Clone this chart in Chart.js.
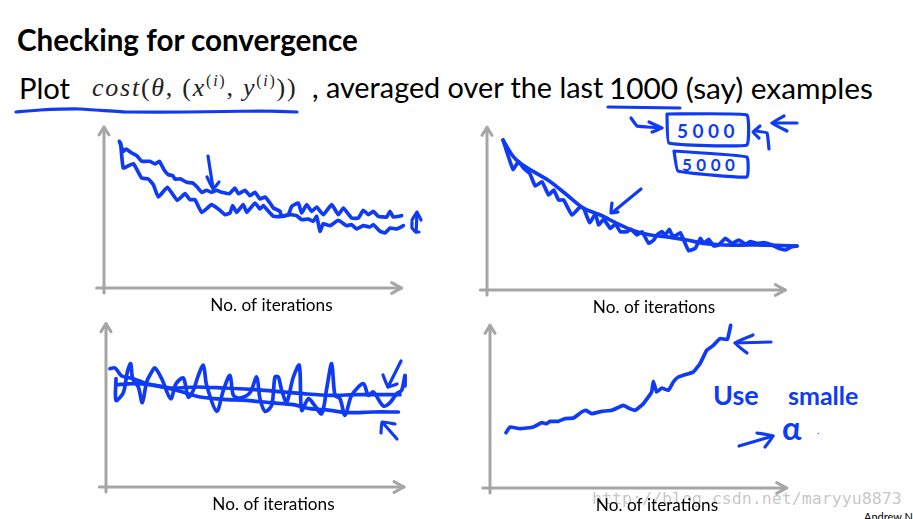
<!DOCTYPE html>
<html><head><meta charset="utf-8">
<script src="https://cdn.jsdelivr.net/npm/chart.js@4"></script>
<style>
html,body{margin:0;padding:0;background:#fff;width:913px;height:519px;overflow:hidden;position:relative}
canvas{position:absolute;display:block}
.t{position:absolute;white-space:nowrap;font-family:Lato,sans-serif;color:#000;line-height:1}
.m{position:absolute;white-space:nowrap;font-family:"Liberation Serif",serif;color:#222;line-height:1}
.h{position:absolute;white-space:nowrap;font-family:Lato,sans-serif;font-weight:700;color:#0f3bf5;line-height:1}
sup{font-size:16px;line-height:0;vertical-align:0;position:relative;top:-10px}
</style></head><body>
<div class="t" style="left:17px;top:25px;font-size:29.6px;font-weight:700">Checking for convergence</div>
<div class="t" style="left:19px;top:73px;font-size:29.2px">Plot</div>
<div class="m" style="left:92px;top:75px;font-size:26px;letter-spacing:1.75px"><i>cost</i>(<i>θ</i>, (<i>x</i><sup>(<i>i</i>)</sup>, <i>y</i><sup>(<i>i</i>)</sup>))</div>
<div class="t" style="left:312px;top:73px;font-size:28.8px">, averaged over the last</div>
<div class="t" style="left:609px;top:73px;font-size:29.8px">1000 (say) examples</div>
<div class="h" style="left:677px;top:121px;font-size:19px;letter-spacing:4.5px">5000</div>
<div class="h" style="left:682px;top:156px;font-size:17px;letter-spacing:4.5px">5000</div>
<div class="h" style="left:713px;top:381px;font-size:27px">Use</div>
<div class="h" style="left:788px;top:383px;font-size:25px">smalle</div>
<div class="h" style="left:782px;top:412px;font-size:32px">α</div>
<div class="h" style="left:817px;top:425px;font-size:10px;font-weight:400">.</div>
<div class="t" style="left:864px;top:511px;font-size:11px">Andrew Ng</div>
<div style="position:absolute;left:592px;top:489px;font:16.6px 'DejaVu Sans Mono',monospace;color:rgba(150,150,150,.55);white-space:nowrap">http://blog.csdn.net/maryyu8873</div>
<canvas id="p1" width="345" height="210" style="left:94px;top:113px"></canvas>
<canvas id="p2" width="344" height="210" style="left:477px;top:115px"></canvas>
<canvas id="p3" width="345" height="210" style="left:96px;top:312px"></canvas>
<canvas id="p4" width="344" height="210" style="left:480px;top:313px"></canvas>
<canvas id="ink" width="913" height="519" style="left:0;top:0"></canvas>
<script>
const axisLabel = "No. of iterations";
const INK = "#0f3bf5", AXIS = "#a6a6a6";

// Panel 1
const p1UpperX = [88,100,108,125,140,155,165,180,195,208,222,235,248,255,272,290,308,322,335,350,365,380,395,418,435,445,465,480,495,510,525,540,550,570,575,595,605,625,635,650,665,680,700,725,745,760,785,805,820,835,850,865,890,900,910,935];
const p1UpperY = [440,410,417,405,397,380,380,380,372,380,355,340,337,327,327,317,315,302,287,293,287,293,287,283,300,283,293,277,287,267,273,255,240,230,215,220,245,255,225,250,230,243,220,250,220,240,210,210,233,220,230,215,213,230,213,217];
const p1LowerX = [92,100,130,155,175,190,205,232,262,285,300,315,335,365,385,405,420,428,440,460,470,495,510,520,540,550,575,600,620,635,655,670,680,690,700,720,745,770,785,800,820,840,850,870,885,900,920,940];
const p1LowerY = [435,360,373,330,327,310,273,302,263,283,265,265,227,250,237,220,225,247,227,250,227,255,237,247,225,215,215,220,217,205,207,200,215,170,193,187,203,187,190,177,187,183,190,170,165,180,177,187];
// Panel 2
const p2SmoothX = [98,125,150,190,240,290,340,390,440,490,540,600,650,700,760,850,980];
const p2SmoothY = [450,405,380,355,325,285,245,225,200,178,165,158,150,140,135,135,132];
const p2JaggedX = [98,128,145,160,178,195,215,235,250,265,280,305,330,340,358,375,385,400,420,435,450,470,482,500,515,535,550,560,575,585,597,605,615,630,640,655,675,690,700,715,730,745,765,785,805,825,840,860,880,905,925,945,965,980];
const p2JaggedY = [450,362,385,365,350,312,325,285,300,270,270,225,250,245,202,228,195,212,185,198,175,175,182,165,175,140,150,165,175,165,182,165,162,172,150,118,125,155,140,152,132,135,155,140,150,138,145,140,142,135,125,120,130,132];
// Panel 3
const p3DecayX = [60,75,95,130,170,220,270,330,400,470,540,610,660,720,770,850,925];
const p3DecayY = [355,357,333,325,310,300,287,270,263,260,253,247,235,230,223,225,225];
const p3NoisyX = [78,78,100,112,122,128,145,157,170,185,195,215,242,258,280,295,310,325,340,350,380,400,420,430,450,480,500,510,525,545,555,565,575,590,610,628,635,655,670,695,710,725,735,750,765,785,820,835,850,880,900,920,935,945,945];
const p3NoisyY = [325,260,283,345,370,325,300,253,315,345,357,325,265,310,327,270,290,335,365,305,227,290,335,275,267,283,330,265,227,245,330,330,290,255,330,365,230,265,250,220,295,370,275,265,215,275,310,275,285,243,253,280,290,335,303];
const p3FlatX = [78,130,180,240,320,400,480,560,640,720,800,880,930];
const p3FlatY = [307,310,307,297,300,297,293,287,280,275,277,277,277];
// Panel 4
const p4RiseX = [108,120,150,190,215,230,240,265,285,310,335,348,365,395,425,460,475,495,520,545,550,560,575,595,610,625,655,670,690,710,730,750,772,782];
const p4RiseY = [166,183,178,183,196,193,200,200,208,210,228,233,223,230,233,248,240,233,253,288,320,288,300,293,318,333,343,348,373,413,428,448,446,488];

// Hand-drawn annotations (page units)
const notes = [
 [[16,112],[40,110],[80,109],[127,112],[187,112],[260,111],[297,112]],
 [[608,107],[680,108]],
 [[208,156],[213,188]],[[207,177],[213,189],[219,182]],
 [[417,212],[416,232],[412,228],[412,222]],[[412,220],[417,212],[421,220]],[[416,232],[419,232]],
 [[641,189],[613,212]],[[612,203],[611,213],[618,212]],
 [[667,114],[747,115],[747,145],[669,143],[667,114]],
 [[674,151],[747,157],[747,177],[678,171],[674,151]],
 [[631,118],[637,126],[647,127],[662,128]],[[649,122],[662,128],[652,132]],
 [[769,149],[767,133],[756,131]],[[760,126],[753,132],[759,138]],
 [[797,123],[772,123]],[[784,116],[772,123],[787,131]],
 [[401,361],[388,387]],[[383,375],[388,387],[397,384]],
 [[397,439],[383,423]],[[381,433],[382,422],[395,424]],
 [[771,342],[735,343]],[[753,335],[735,343],[747,353]],
 [[739,446],[773,436]],[[757,433],[773,436],[765,447]]
];

const xy = (xs, ys) => xs.map((x, i) => ({x, y: ys[i]}));
const line = (data, color, width, tension) => ({data, borderColor: color, borderWidth: width,
  tension, pointRadius: 0, fill: false, clip: false, borderJoinStyle: "round", borderCapStyle: "round"});

function panel(id, xStart, areaW, left, right, up, series) {
  const axis = [
    line(xy([left, right], [0, 0]), AXIS, 3, 0),
    line(xy([right-30, right, right-30], [16, 0, -16]), AXIS, 3, 0),
    line(xy([xStart, xStart], [-15, up]), AXIS, 3, 0),
    line(xy([xStart-15, xStart, xStart+15], [up-24, up, up-24]), AXIS, 3, 0)
  ];
  new Chart(document.getElementById(id), {
    type: "line",
    data: {datasets: axis.concat(series.map(s => line(xy(s[0], s[1]), INK, 3.7, s[2] || 0.12)))},
    options: {
      responsive: false, animation: false, events: [],
      layout: {padding: {left: 10, top: 5, right: 0, bottom: 0}},
      plugins: {legend: {display: false}, tooltip: {enabled: false}},
      scales: {
        x: {type: "linear", min: xStart, max: xStart + areaW*3,
            afterFit: s => { s.height = 35; },
            grid: {display: false}, border: {display: false}, ticks: {display: false},
            title: {display: true, text: axisLabel, color: "#000", font: {family: "Lato", size: 17.2}, padding: {top: 0, bottom: 7}}},
        y: {type: "linear", min: 0, max: 510, display: false}
      }
    }
  });
}
panel("p1", 42, 335, 20, 935, 483, [[p1UpperX,p1UpperY],[p1LowerX,p1LowerY]]);
panel("p2", 50, 334, 30, 945, 488, [[p2SmoothX,p2SmoothY,0.3],[p2JaggedX,p2JaggedY]]);
panel("p3", 48, 335, 28, 942, 490, [[p3DecayX,p3DecayY,0.3],[p3NoisyX,p3NoisyY,0.3],[p3FlatX,p3FlatY,0.3]]);
panel("p4", 60, 334, 38, 950, 488, [[p4RiseX,p4RiseY]]);

new Chart(document.getElementById("ink"), {
  type: "line",
  data: {datasets: notes.map(n => line(n.map(p => ({x: p[0], y: p[1]})), INK, 3.2, 0.1))},
  options: {
    responsive: false, animation: false, events: [],
    layout: {padding: 0},
    plugins: {legend: {display: false}, tooltip: {enabled: false}},
    scales: {x: {type: "linear", min: 0, max: 913, display: false},
             y: {type: "linear", min: 0, max: 519, reverse: true, display: false}}
  }
});
</script>
</body></html>
